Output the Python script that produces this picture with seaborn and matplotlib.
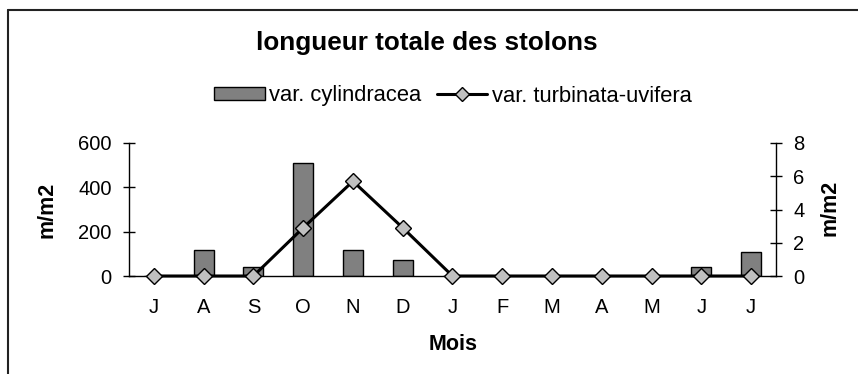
import matplotlib
matplotlib.use("Agg")
import matplotlib.pyplot as plt
from matplotlib.lines import Line2D
from matplotlib.patches import Patch
import numpy as np
import pandas as pd
import seaborn as sns

# Monthly series, July to July
month_keys = ["Jul1", "Aug", "Sep", "Oct", "Nov", "Dec", "Jan", "Feb", "Mar", "Apr", "May", "Jun", "Jul2"]
month_labels = ["J", "A", "S", "O", "N", "D", "J", "F", "M", "A", "M", "J", "J"]
cylindracea = [0, 116, 42, 510, 116, 72, 0, 0, 0, 0, 0, 40, 110]
turbinata = [0, 0, 0, 2.9, 5.7, 2.9, 0, 0, 0, 0, 0, 0, 0]

sns.set_theme(style="white")
plt.rcParams["font.family"] = ["Liberation Sans", "DejaVu Sans"]
plt.rcParams["text.color"] = "black"

W, H = 858, 374
fig = plt.figure(figsize=(W / 100, H / 100), dpi=100)
ax = fig.add_axes([129 / W, 1 - 276 / H, (776 - 129) / W, (276 - 143) / H])

bars = pd.DataFrame({"mois": month_keys, "longueur": cylindracea})
sns.barplot(data=bars, x="mois", y="longueur", order=month_keys, ax=ax,
            color="#808080", saturation=1, width=0.4,
            edgecolor="black", linewidth=1.0, zorder=2)

ax2 = ax.twinx()
pos = np.arange(len(month_keys))
line = pd.DataFrame({"pos": pos, "val": turbinata})
sns.lineplot(data=line, x="pos", y="val", ax=ax2, color="black", linewidth=2.2,
             marker="D", markersize=8.5, markerfacecolor="#c0c0c0",
             markeredgecolor="black", markeredgewidth=1.0, clip_on=False, zorder=3)

ax.set_xlim(-0.5, len(month_keys) - 0.5)
ax.set_ylim(0, 600)
ax2.set_ylim(0, 8)
ax.set_yticks([0, 200, 400, 600])
ax2.set_yticks([0, 2, 4, 6, 8])

FS = 14.5
ax.set_xticks(pos)
ax.set_xticklabels(month_labels)
ax.set_xticks(np.arange(-0.5, len(month_keys)), minor=True)
ax.tick_params(axis="x", which="major", length=0, pad=16, labelsize=FS, colors="black")
ax.tick_params(axis="x", which="minor", direction="inout", length=9, width=1, color="black")
ax.tick_params(axis="y", direction="inout", length=9, width=1, color="black",
               labelsize=FS, labelcolor="black", pad=8, left=True)
ax2.tick_params(axis="y", direction="inout", length=9, width=1, color="black",
                labelsize=FS, labelcolor="black", pad=8, right=True)

for a in (ax, ax2):
    a.spines["top"].set_visible(False)
    for s in ("left", "right", "bottom"):
        a.spines[s].set_color("black")
        a.spines[s].set_linewidth(1.0)
ax.spines["right"].set_visible(False)
ax2.spines["left"].set_visible(False)
ax2.spines["bottom"].set_visible(False)
ax.set_zorder(1)
ax2.set_zorder(2)
ax2.patch.set_visible(False)

ax.set_xlabel("")
ax.set_ylabel("")
ax2.set_xlabel("")
ax2.set_ylabel("")

fig.text(453 / W, 1 - 345 / H, "Mois", ha="center", va="center",
         fontsize=15.5, fontweight="bold")
fig.text(47 / W, 1 - 210 / H, "m/m2", ha="center", va="center", rotation=90,
         fontsize=15.5, fontweight="bold")
fig.text(830 / W, 1 - 208 / H, "m/m2", ha="center", va="center", rotation=90,
         fontsize=15.5, fontweight="bold")
fig.text(427 / W, 1 - 43 / H, "longueur totale des stolons", ha="center", va="center",
         fontsize=18.8, fontweight="bold")

handles = [
    Patch(facecolor="#808080", edgecolor="black", linewidth=1.0, label="var. cylindracea"),
    Line2D([0], [0], color="black", linewidth=2.2, marker="D", markersize=7,
           markerfacecolor="#c0c0c0", markeredgecolor="black", label="var. turbinata-uvifera"),
]
fig.legend(handles=handles, loc="center", bbox_to_anchor=(453 / W, 1 - 96 / H), ncol=2,
           frameon=False, fontsize=15.8, handlelength=2.3, handleheight=0.5,
           handletextpad=0.2, columnspacing=0.7, borderpad=0)

# Outer frame (top and left edges)
fig.add_artist(Line2D([8 / W, 8 / W], [0, 1 - 10 / H], transform=fig.transFigure,
                      color="#222222", linewidth=1.5))
fig.add_artist(Line2D([8 / W, 1], [1 - 10 / H, 1 - 10 / H], transform=fig.transFigure,
                      color="#222222", linewidth=1.5))

fig.savefig("out.png", dpi=100, facecolor="white")
